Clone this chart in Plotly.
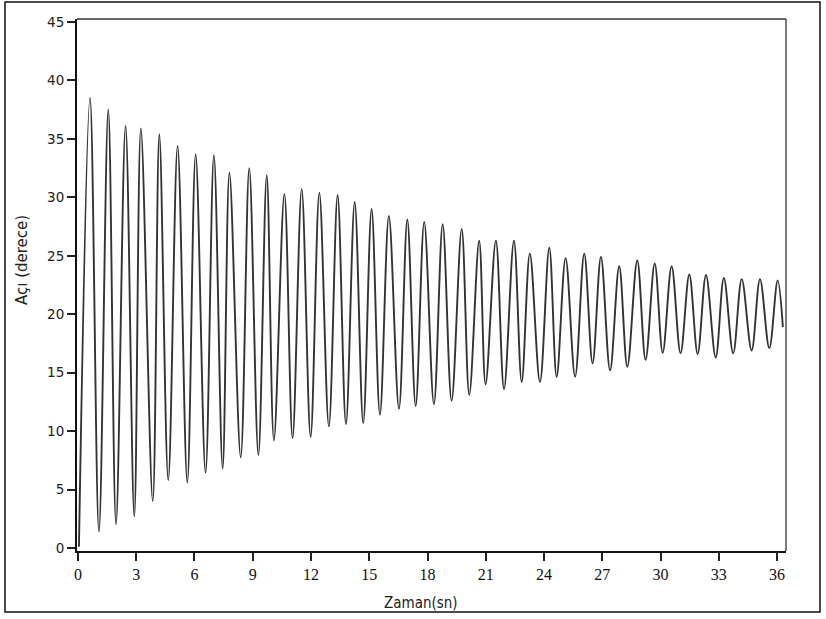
import plotly.graph_objects as go

# Extrema of the damped oscillation (time in s, angle in degrees)
time_s = [0.05, 0.62, 1.08, 1.56, 1.96, 2.45, 2.90, 3.24, 3.85, 4.19, 4.65, 5.13, 5.63, 6.06,
          6.57, 7.00, 7.45, 7.80, 8.38, 8.82, 9.29, 9.72, 10.09, 10.63, 11.05, 11.52, 11.98,
          12.43, 12.92, 13.37, 13.80, 14.25, 14.69, 15.12, 15.55, 16.01, 16.53, 16.96, 17.39,
          17.83, 18.33, 18.78, 19.24, 19.76, 20.15, 20.66, 20.99, 21.52, 21.94, 22.45, 22.85,
          23.27, 23.79, 24.27, 24.65, 25.11, 25.60, 26.07, 26.50, 26.93, 27.40, 27.87, 28.29,
          28.80, 29.23, 29.70, 30.11, 30.57, 31.03, 31.48, 31.91, 32.34, 32.84, 33.26, 33.74,
          34.18, 34.69, 35.12, 35.60, 36.03, 36.30]
angle_deg = [0.1, 38.5, 1.4, 37.5, 2.05, 36.1, 2.7, 35.9, 4.0, 35.4, 5.8, 34.4, 5.6, 33.7,
             6.45, 33.6, 6.8, 32.1, 7.75, 32.5, 7.95, 31.9, 9.2, 30.3, 9.4, 30.7, 9.5,
             30.4, 10.4, 30.2, 10.6, 29.6, 10.7, 29.0, 11.4, 28.4, 11.9, 28.1, 12.15,
             27.9, 12.3, 27.7, 12.6, 27.3, 13.1, 26.3, 14.0, 26.3, 13.6, 26.3, 14.2,
             25.2, 14.2, 25.7, 14.65, 24.8, 14.65, 25.2, 15.8, 24.9, 15.2, 24.1, 15.5,
             24.6, 16.1, 24.35, 16.7, 24.1, 16.65, 23.4, 16.6, 23.35, 16.3, 23.1, 16.65,
             23.0, 16.9, 23.0, 17.1, 22.9, 18.9]

x_ticks = list(range(0, 37, 3))
y_ticks = list(range(0, 46, 5))
x_title = "Zaman(sn)"
y_title = "Açı (derece)"

fig = go.Figure()
fig.add_trace(go.Scatter(
    x=time_s, y=angle_deg, mode="lines",
    line=dict(color="#333333", width=1.9, shape="spline", smoothing=1.0),
    showlegend=False, hoverinfo="skip",
))

W, H = 826, 619
L, R, T, B = 77, 40, 19, 68

fig.update_layout(
    width=W, height=H,
    margin=dict(l=L, r=R, t=T, b=B, autoexpand=False),
    paper_bgcolor="white", plot_bgcolor="white",
    showlegend=False,
    xaxis=dict(
        range=[-0.05, 36.46], tickvals=x_ticks, ticktext=[str(v) for v in x_ticks],
        showgrid=False, zeroline=False, showline=True, linecolor="#111", linewidth=2,
        ticks="outside", ticklen=8, tickwidth=1.5, tickcolor="#222",
        tickfont=dict(family="Liberation Serif", size=16, color="#111"),
    ),
    yaxis=dict(
        range=[-0.26, 45.26], tickvals=y_ticks, ticktext=[str(v) for v in y_ticks],
        showgrid=False, zeroline=False, showline=True, linecolor="#111", linewidth=2,
        ticks="outside", ticklen=8, tickwidth=1.5, tickcolor="#222",
        tickfont=dict(family="DejaVu Sans", size=13.5, color="#222"),
    ),
)

pw, ph = W - L - R, H - T - B
def px(xp):
    return (xp - L) / pw
def py(yp):
    return (H - B - yp) / ph

shapes = [
    # thin top and right frame of the plot area
    dict(type="line", xref="paper", yref="paper", x0=0, x1=1, y0=1, y1=1,
         line=dict(color="#333", width=1.3)),
    dict(type="line", xref="paper", yref="paper", x0=1, x1=1, y0=0, y1=1,
         line=dict(color="#333", width=1.3)),
    # outer border of the picture
    dict(type="rect", xref="paper", yref="paper", x0=px(5), x1=px(820), y0=py(612), y1=py(2),
         line=dict(color="#111", width=1.5), fillcolor="rgba(0,0,0,0)", layer="below"),
]
fig.update_layout(shapes=shapes)

fig.add_annotation(text=y_title, xref="paper", yref="paper", x=px(22), y=py(260),
                   showarrow=False, textangle=-90, xanchor="center", yanchor="middle",
                   font=dict(family="DejaVu Sans", size=15, color="#222"))
fig.add_annotation(text=x_title, xref="paper", yref="paper", x=px(421), y=py(603),
                   showarrow=False, xanchor="center", yanchor="middle",
                   font=dict(family="DejaVu Sans Condensed", size=15, color="#222"))

fig.write_html(
    "out.html",
    config={"displayModeBar": False},
    post_script="document.body.style.margin='0px';document.body.style.overflow='hidden';",
)
